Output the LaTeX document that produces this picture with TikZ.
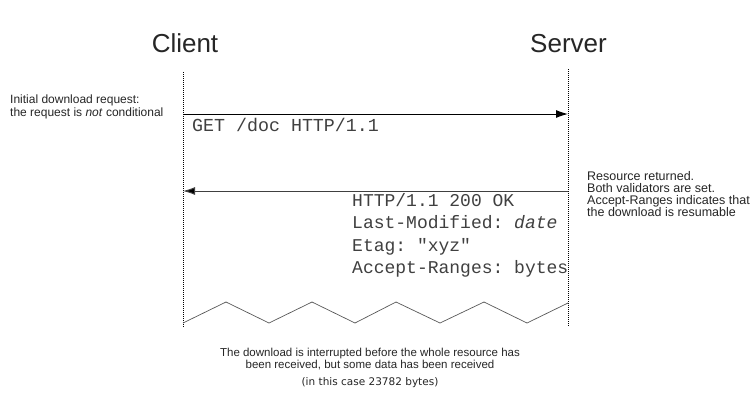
\documentclass[tikz,border=0pt]{standalone}
\usepackage{fontspec}
\setmainfont{Liberation Sans}
\setmonofont{Liberation Mono}
\newfontfamily\smallsans{DejaVu Sans}
\usetikzlibrary{arrows.meta}
\begin{document}
\begin{tikzpicture}[x=1pt,y=-1pt,
  actor/.style={font=\fontsize{26}{30}\selectfont, text=black!85, inner sep=0, anchor=base},
  lifeline/.style={draw=black, line width=0.8pt, dash pattern=on 1pt off 1pt},
  msg/.style={line width=1pt, -{Latex[length=12pt,width=8pt]}},
  note/.style={font=\fontsize{12}{12}\selectfont, text=black!85, inner sep=0, anchor=base west},
  cnote/.style={font=\fontsize{11.5}{12}\selectfont, text=black!85, inner sep=0, anchor=base},
  code/.style={font=\ttfamily\fontsize{18}{22}\selectfont, text=black!75, inner sep=0, anchor=base west},
  zig/.style={draw=black!65, line width=0.7pt},
]
\useasboundingbox[fill=white] (0,0) rectangle (754,408);
% actors
\node[actor] (client) at (185,52) {Client};
\node[actor] (server) at (568.5,52) {Server};
% lifelines
\coordinate (ctop) at (183,72);
\coordinate (cbot) at (183,327);
\coordinate (stop) at (568,69);
\coordinate (sbot) at (568,327);
\draw[lifeline] (ctop) -- (cbot);
\draw[lifeline] (stop) -- (sbot);
% request
\coordinate (c1) at (183,114);
\coordinate (s1) at (568,114);
\draw[msg] (c1) -- (s1);
\node[code, font=\ttfamily\fontsize{18.3}{22}\selectfont] (get) at (192,131) {GET /doc HTTP/1.1};
\node[note] (l1) at (10,103.5) {Initial download request:};
\node[note] (l2) at (10,116.5) {the request is \textit{not} conditional};
% response
\coordinate (c2) at (183,191);
\coordinate (s2) at (568,191);
\draw[msg, draw=black!75, -{Latex[length=12pt,width=8pt,fill=black]}] (s2) -- (c2);
\node[code] (r1) at (352,206) {HTTP/1.1 200 OK};
\node[code] (r2) at (352,228.5) {Last-Modified: \textit{date}};
\node[code] (r3) at (352,251) {Etag: "xyz"};
\node[code] (r4) at (352,273.5) {Accept-Ranges: bytes};
\node[note, font=\fontsize{12.5}{12}\selectfont] (n1) at (587,180.5) {Resource returned.};
\node[note, font=\fontsize{12.5}{12}\selectfont] (n2) at (587,192.5) {Both validators are set.};
\node[note, font=\fontsize{12.5}{12}\selectfont] (n3) at (587,204.5) {Accept-Ranges indicates that};
\node[note, font=\fontsize{12.5}{12}\selectfont] (n4) at (587,216.5) {the download is resumable};
% interruption
\draw[zig] (183,323) -- (226,302) -- (269,323) -- (312,302) -- (355,323)
  -- (396,302) -- (440,323) -- (484,302) -- (527,323) -- (568,303);
\node[cnote] (b1) at (370,356) {The download is interrupted before the whole resource has};
\node[cnote] (b2) at (370,368) {been received, but some data has been received};
\node[cnote, font=\smallsans\fontsize{10.5}{12}\selectfont] (b3) at (370,385) {(in this case 23782 bytes)};
\end{tikzpicture}
\end{document}
